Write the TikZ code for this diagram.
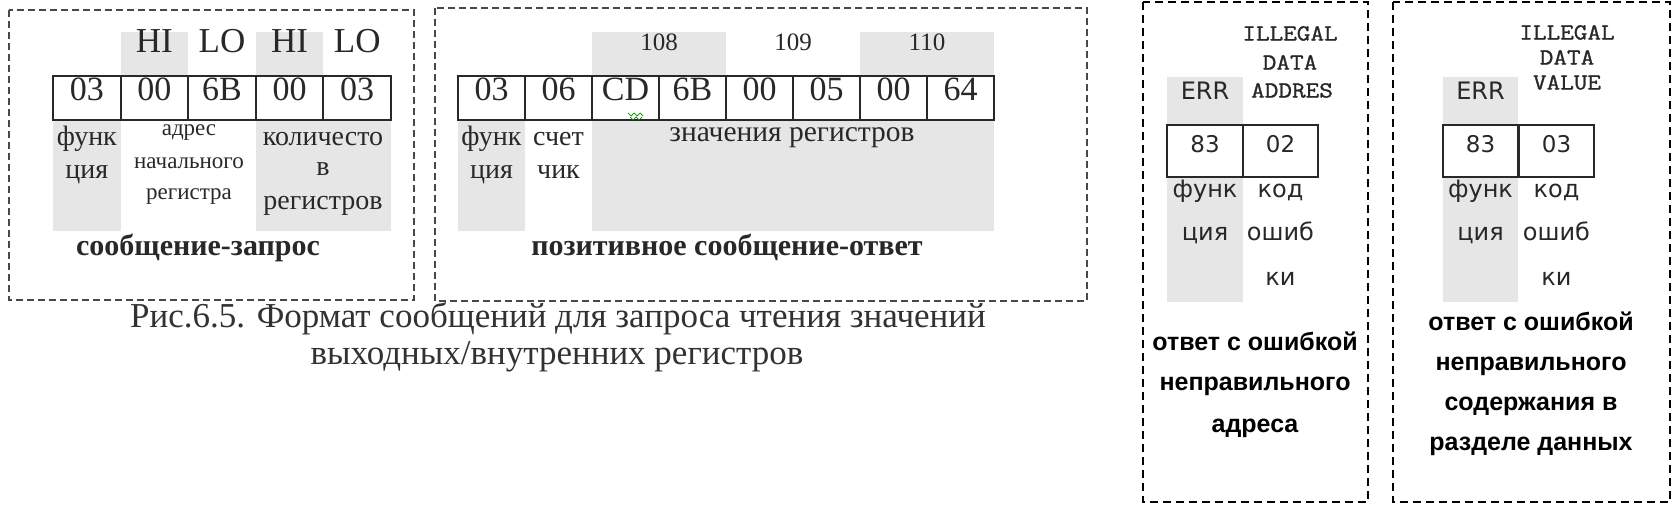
\documentclass[tikz,border=0pt]{standalone}
\usepackage{fontspec}
\setmainfont{Liberation Serif}
\newfontfamily\sansf{DejaVu Sans}
\newfontfamily\boldsansf{Liberation Sans}
\newfontfamily\monof[FakeStretch=1.15,FakeBold=1.2]{Latin Modern Mono}
\definecolor{shade}{RGB}{230,230,230}
\definecolor{ink}{RGB}{40,40,40}
\definecolor{capink}{RGB}{50,50,50}
\newcommand{\fs}[1]{\fontsize{#1}{#1}\selectfont}
\begin{document}
\begin{tikzpicture}[x=1pt,y=-1pt,
  every node/.style={inner sep=0pt, text height=.7em, text depth=.2em, text=ink},
  frameA/.style={draw=ink!85, line width=1.8pt, dash pattern=on 7pt off 4pt},
  frameB/.style={draw=black, line width=1.6pt, dash pattern=on 8pt off 5pt},
  shadebox/.style={fill=shade, draw=none},
  cellA/.style={draw=ink, fill=white, line width=2pt, minimum height=44pt, minimum width=67.6pt, font=\fs{34}},
  cellB/.style={draw=ink, fill=white, line width=2pt, minimum height=44pt, minimum width=67pt, font=\fs{34}},
  cellC/.style={draw=ink, fill=white, line width=2pt, minimum height=52pt, minimum width=75.5pt, text height=16pt, text depth=12.5pt, font=\sansf\fs{23}},
  hdrA/.style={font=\fs{35}},
  hdrB/.style={font=\fs{25}},
  labA/.style={font=\fs{28}},
  labS/.style={font=\fs{23}},
  titleA/.style={font=\bfseries\fs{30}},
  capt/.style={font=\fs{35}, text=capink},
  labC/.style={font=\sansf\fs{24}},
  illeg/.style={font=\monof\fs{23}},
  titleC/.style={font=\boldsansf\bfseries\fs{25}, text=black}
]
\useasboundingbox (0,0) rectangle (1678,514);

% ---------------- Box 1: request ----------------
\draw[frameA] (9,10) rectangle (414,300);
\fill[shadebox] (120.6,32) rectangle (188.2,76);
\fill[shadebox] (255.8,32) rectangle (323.4,76);
\fill[shadebox] (53,120) rectangle (120.6,231);
\fill[shadebox] (255.8,120) rectangle (391,231);
\node[hdrA] (h11) at (154.4,50) {HI};
\node[hdrA] (h12) at (222,50) {LO};
\node[hdrA] (h13) at (289.6,50) {HI};
\node[hdrA] (h14) at (357.2,50) {LO};
\node[cellA] (a1) at (86.8,98) {03};
\node[cellA] (a2) at (154.4,98) {00};
\node[cellA] (a3) at (222,98) {6B};
\node[cellA] (a4) at (289.6,98) {00};
\node[cellA] (a5) at (357.2,98) {03};
\node[labA] (l11) at (86.8,143) {функ};
\node[labA] (l12) at (86.8,176) {ция};
\node[labS] (l13) at (189,133) {адрес};
\node[labS] (l14) at (189,166) {начального};
\node[labS] (l15) at (189,197) {регистра};
\node[labA] (l16) at (323,143) {количесто};
\node[labA] (l17) at (323,173) {в};
\node[labA] (l18) at (323,207) {регистров};
\node[titleA] (t1) at (198,253) {сообщение-запрос};

% ---------------- Box 2: positive response ----------------
\draw[frameA] (435,8) rectangle (1087,301);
\fill[shadebox] (592,32) rectangle (726,76);
\fill[shadebox] (860,32) rectangle (994,76);
\fill[shadebox] (458,120) rectangle (525,231);
\fill[shadebox] (592,120) rectangle (994,231);
\node[hdrB] (h21) at (659,48) {108};
\node[hdrB] (h22) at (793,48) {109};
\node[hdrB] (h23) at (927,48) {110};
\node[cellB] (b1) at (491.5,98) {03};
\node[cellB] (b2) at (558.5,98) {06};
\node[cellB] (b3) at (625.5,98) {CD};
\node[cellB] (b4) at (692.5,98) {6B};
\node[cellB] (b5) at (759.5,98) {00};
\node[cellB] (b6) at (826.5,98) {05};
\node[cellB] (b7) at (893.5,98) {00};
\node[cellB] (b8) at (960.5,98) {64};
\draw[green!55!black, line width=0.7pt] (628,113) -- (631,116) -- (634,113) -- (637,116) -- (640,113) -- (643,116);
\draw[green!55!black, line width=0.7pt] (630,117) -- (633,120) -- (636,117) -- (639,120) -- (642,117);
\node[labA] (l21) at (491.5,143) {функ};
\node[labA] (l22) at (491.5,176) {ция};
\node[labA] (l23) at (558.5,143) {счет};
\node[labA] (l24) at (558.5,176) {чик};
\node[labA, font=\fs{29.5}] (l25) at (792,139) {значения регистров};
\node[titleA] (t2) at (727,253) {позитивное сообщение-ответ};

% ---------------- Caption ----------------
\node[capt] (c1) at (558,325) {Рис.6.5. Формат сообщений для запроса чтения значений};
\node[capt] (c2) at (557,362) {выходных/внутренних регистров};

% ---------------- Box 3: illegal data address ----------------
\draw[frameB] (1143,2) rectangle (1368,502);
\fill[shadebox] (1167,77) rectangle (1243,302);
\node[illeg] (i31) at (1290,38) {ILLEGAL};
\node[illeg] (i32) at (1290,67) {DATA};
\node[illeg] (i33) at (1292,95) {ADDRES};
\node[labC] (e3) at (1205,97) {ERR};
\node[cellC] (c31) at (1205,151) {83};
\node[cellC] (c32) at (1280.5,151) {02};
\node[labC] (l31) at (1205,195) {функ};
\node[labC] (l32) at (1205,238) {ция};
\node[labC] (l33) at (1280.5,195) {код};
\node[labC] (l34) at (1280.5,238) {ошиб};
\node[labC] (l35) at (1280.5,283) {ки};
\node[titleC] (t31) at (1255,348) {ответ с ошибкой};
\node[titleC] (t32) at (1255,388) {неправильного};
\node[titleC] (t33) at (1255,430) {адреса};

% ---------------- Box 4: illegal data value ----------------
\draw[frameB] (1393,2) rectangle (1670,502);
\fill[shadebox] (1443,77) rectangle (1518,302);
\node[illeg] (i41) at (1567,37) {ILLEGAL};
\node[illeg] (i42) at (1567,62) {DATA};
\node[illeg] (i43) at (1567,87) {VALUE};
\node[labC] (e4) at (1480.5,97) {ERR};
\node[cellC] (c41) at (1480.5,151) {83};
\node[cellC] (c42) at (1556.5,151) {03};
\node[labC] (l41) at (1480.5,195) {функ};
\node[labC] (l42) at (1480.5,238) {ция};
\node[labC] (l43) at (1556.5,195) {код};
\node[labC] (l44) at (1556.5,238) {ошиб};
\node[labC] (l45) at (1556.5,283) {ки};
\node[titleC] (t41) at (1531,328) {ответ с ошибкой};
\node[titleC] (t42) at (1531,368) {неправильного};
\node[titleC] (t43) at (1531,408) {содержания в};
\node[titleC] (t44) at (1531,448) {разделе данных};
\end{tikzpicture}
\end{document}
